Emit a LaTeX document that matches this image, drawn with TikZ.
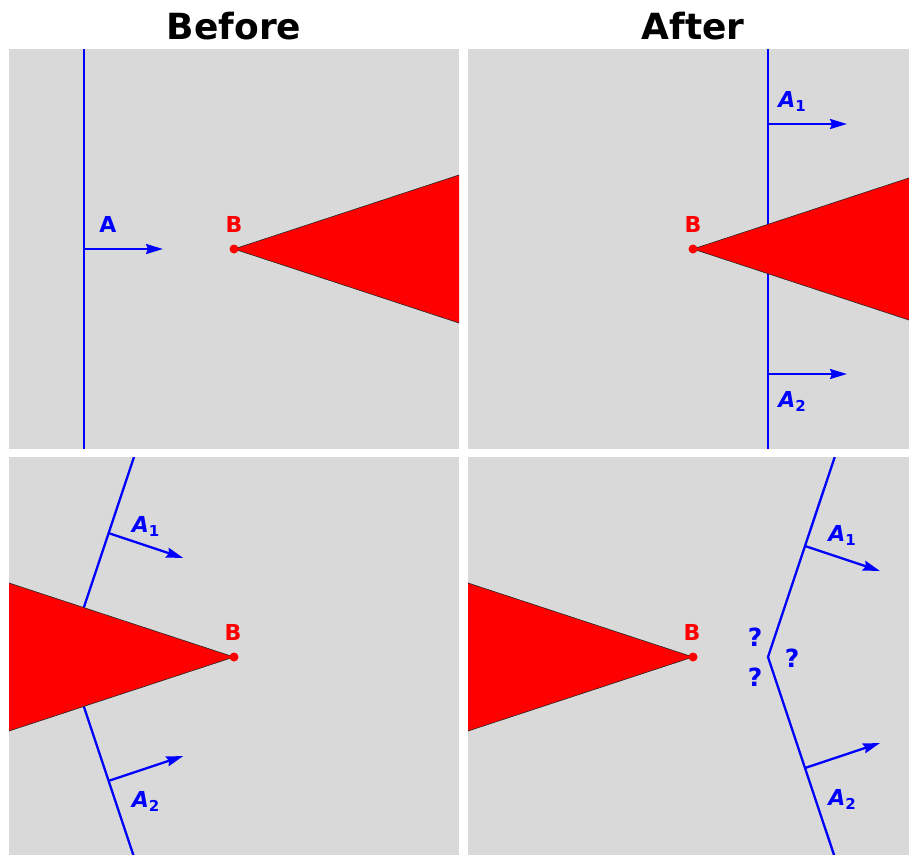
\documentclass[tikz,border=0pt]{standalone}
\usepackage{fontspec}
\setmainfont{DejaVu Sans}
\usetikzlibrary{arrows.meta}
\definecolor{panelgray}{gray}{0.85}
\newcommand{\Asub}[1]{\textit{A}\raisebox{-0.2em}{\fontsize{15}{15}\selectfont #1}}

\begin{document}
\begin{tikzpicture}[x=1pt,y=1pt,
  panel/.style={fill=panelgray},
  wall/.style={blue,line width=2.3pt,line join=miter},
  vec/.style={blue,line width=2.3pt,-{Stealth[length=17pt,width=10pt,inset=2pt]}},
  wedge/.style={fill=red,draw=black!85,line width=0.6pt},
  lbl/.style={blue,font=\fontsize{22}{22}\selectfont\bfseries,inner sep=0pt,anchor=base},
  qlbl/.style={blue,font=\fontsize{25}{25}\selectfont\bfseries,inner sep=0pt,anchor=base},
  ptlbl/.style={red,font=\fontsize{22}{22}\selectfont\bfseries,inner sep=0pt,anchor=base},
  title/.style={font=\fontsize{36}{36}\selectfont\bfseries,inner sep=0pt,anchor=base}]
  \useasboundingbox (0,0) rectangle (909,-854);
  \node[title] (before) at (234,-39) {Before};
  \node[title] (after) at (693,-39) {After};

  \begin{scope}[shift={(234,-249)}]
    \clip (-225,-199.5) rectangle (225,200);
    \fill[panel] (-225,-199.5) rectangle (225,200);
    \coordinate (tl-B) at (0,0);
    \coordinate (tl-top) at (-150,200);
    \coordinate (tl-bot) at (-150,-200);
    \coordinate (tl-foot) at (-150,0);
    \coordinate (tl-tip) at (-71,0);
    \draw[wall] (tl-top) -- (tl-bot);
    \filldraw[wedge] (tl-B) -- (300,98.7) -- (300,-98.7) -- cycle;
    \draw[vec] (tl-foot) -- (tl-tip);
    \node[lbl] (tl-A) at (-126,17) {A};
    \node[ptlbl] (tl-Blbl) at (0,17) {B};
    \fill[red] (tl-B) circle (4.5);
  \end{scope}

  \begin{scope}[shift={(693,-249)}]
    \clip (-225,-199.5) rectangle (225,200);
    \fill[panel] (-225,-199.5) rectangle (225,200);
    \coordinate (tr-B) at (0,0);
    \coordinate (tr-top) at (75,200);
    \coordinate (tr-bot) at (75,-200);
    \coordinate (tr-foot1) at (75,125);
    \coordinate (tr-tip1) at (154,125);
    \coordinate (tr-foot2) at (75,-125);
    \coordinate (tr-tip2) at (154,-125);
    \draw[wall] (tr-top) -- (tr-bot);
    \filldraw[wedge] (tr-B) -- (300,98.7) -- (300,-98.7) -- cycle;
    \draw[vec] (tr-foot1) -- (tr-tip1);
    \draw[vec] (tr-foot2) -- (tr-tip2);
    \node[lbl] (tr-A1) at (99,142) {\Asub{1}};
    \node[lbl] (tr-A2) at (99,-158) {\Asub{2}};
    \node[ptlbl] (tr-Blbl) at (0,17) {B};
    \fill[red] (tr-B) circle (4.5);
  \end{scope}

  \begin{scope}[shift={(234,-657)}]
    \clip (-225,-200) rectangle (225,200);
    \fill[panel] (-225,-200) rectangle (225,200);
    \coordinate (bl-B) at (0,0);
    \coordinate (bl-top) at (-100,200);
    \coordinate (bl-kink) at (-166.7,0);
    \coordinate (bl-bot) at (-100,-200);
    \coordinate (bl-foot1) at (-125.7,124);
    \coordinate (bl-tip1) at (-50.7,99);
    \coordinate (bl-foot2) at (-125.7,-124);
    \coordinate (bl-tip2) at (-50.7,-99);
    \draw[wall] (bl-top) -- (bl-kink) -- (bl-bot);
    \filldraw[wedge] (bl-B) -- (-300,98.7) -- (-300,-98.7) -- cycle;
    \draw[vec] (bl-foot1) -- (bl-tip1);
    \draw[vec] (bl-foot2) -- (bl-tip2);
    \node[lbl] (bl-A1) at (-88.5,125) {\Asub{1}};
    \node[lbl] (bl-A2) at (-88.5,-150) {\Asub{2}};
    \node[ptlbl] (bl-Blbl) at (-1,17) {B};
    \fill[red] (bl-B) circle (4.5);
  \end{scope}

  \begin{scope}[shift={(693,-657)}]
    \clip (-225,-200) rectangle (225,200);
    \fill[panel] (-225,-200) rectangle (225,200);
    \coordinate (br-B) at (0,0);
    \coordinate (br-top) at (141.7,200);
    \coordinate (br-kink) at (75,0);
    \coordinate (br-bot) at (141.7,-200);
    \coordinate (br-foot1) at (112,111);
    \coordinate (br-tip1) at (187,86);
    \coordinate (br-foot2) at (112,-111);
    \coordinate (br-tip2) at (187,-86);
    \draw[wall] (br-top) -- (br-kink) -- (br-bot);
    \filldraw[wedge] (br-B) -- (-300,98.7) -- (-300,-98.7) -- cycle;
    \draw[vec] (br-foot1) -- (br-tip1);
    \draw[vec] (br-foot2) -- (br-tip2);
    \node[lbl] (br-A1) at (149,116) {\Asub{1}};
    \node[lbl] (br-A2) at (149,-148) {\Asub{2}};
    \node[qlbl] (br-q1) at (62,11) {?};
    \node[qlbl] (br-q2) at (62,-29) {?};
    \node[qlbl] (br-q3) at (99,-10) {?};
    \node[ptlbl] (br-Blbl) at (-1,17) {B};
    \fill[red] (br-B) circle (4.5);
  \end{scope}
\end{tikzpicture}
\end{document}
